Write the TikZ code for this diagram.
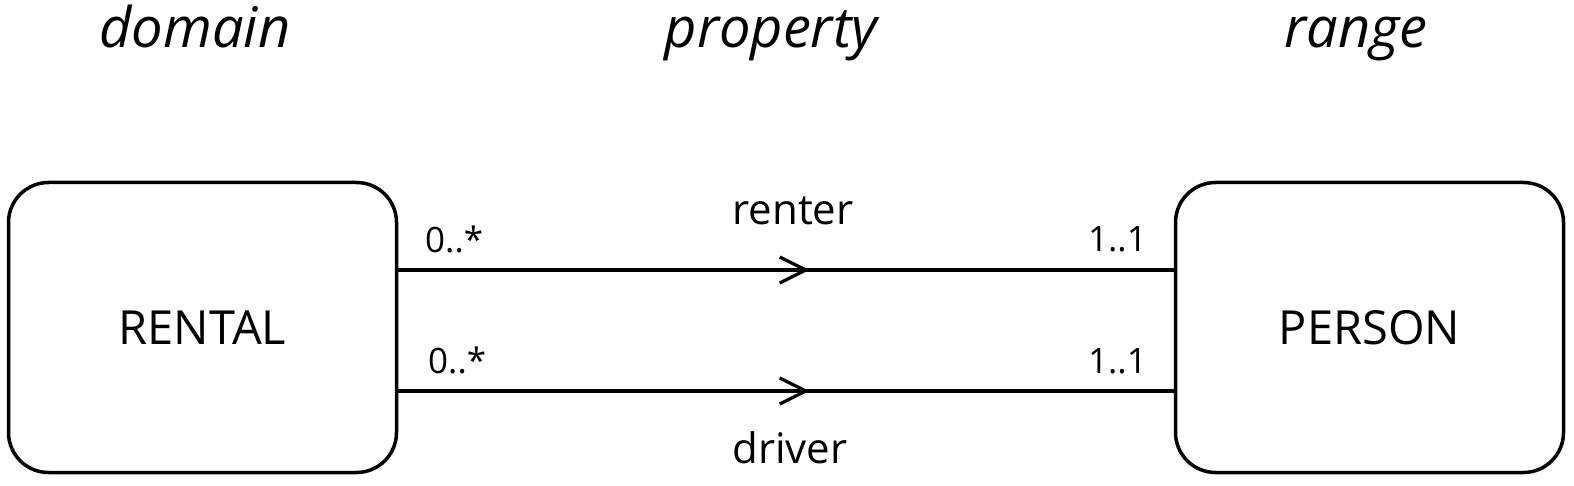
\documentclass[tikz,border=0pt]{standalone}
\usepackage{fontspec}
\setmainfont{Open Sans}
\usepackage{tikz}
\usetikzlibrary{
    arrows.meta,
    calc,
    decorations.markings
}

\tikzset{
    classbox/.style={draw, line width=3.5pt, rounded corners=40pt,
        minimum width=388pt, minimum height=290pt, inner sep=0pt,
        font=\fontsize{47}{50}\selectfont},
    heading/.style={anchor=base, inner sep=0pt, font=\fontsize{56}{60}\selectfont\itshape},
    propname/.style={anchor=base, inner sep=0pt, font=\fontsize{42}{46}\selectfont},
    mult/.style={inner sep=0pt, font=\fontsize{35}{38}\selectfont},
    assoc/.style={line width=3.2pt, postaction={decorate},
        decoration={markings, mark=at position 0.53 with
            {\arrow{Straight Barb[length=26pt, width=26pt, line width=3.2pt]}}}}
}

\begin{document}
\begin{tikzpicture}[x=1pt, y=-1pt]
            \useasboundingbox (0,0) rectangle (1574,486);
            % headings
            \node[heading] (dom) at (195,48) {domain};
            \node[heading] (prop) at (771,48) {property};
            \node[heading] (rng) at (1356,48) {range};
            % classes
            \node[classbox] (rental) at (202.5,327.5) {RENTAL};
            \node[classbox] (person) at (1369.5,327.5) {PERSON};
            % associations
            \draw[assoc] ([yshift=57.5pt]rental.east) -- ([yshift=57.5pt]person.west);
            \draw[assoc] ([yshift=-63.5pt]rental.east) -- ([yshift=-63.5pt]person.west);
            \node[propname] (renter) at (793,225) {renter};
            \node[propname] (driver) at (790,463) {driver};
            % multiplicities
            \node[mult, anchor=base west] (m1) at (425,253) {0..*};
            \node[mult, anchor=base west] (m2) at (428,373) {0..*};
            \node[mult, anchor=base east] (m3) at (1147,252) {1..1};
            \node[mult, anchor=base east] (m4) at (1147,373) {1..1};
        \end{tikzpicture}
\end{document}
